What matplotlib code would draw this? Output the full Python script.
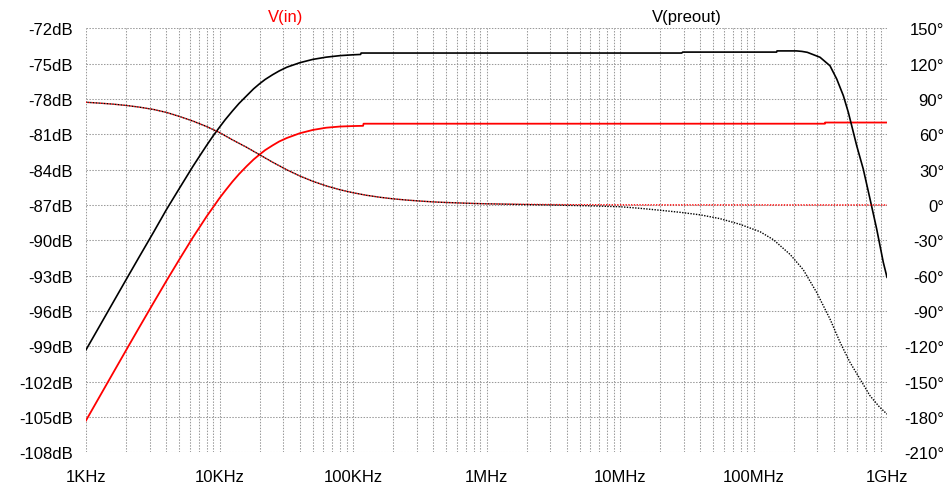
import matplotlib
matplotlib.use("Agg")
import matplotlib.pyplot as plt
from matplotlib.ticker import FixedLocator, LogLocator, NullFormatter

plt.rcParams["font.family"] = ["Liberation Sans", "DejaVu Sans"]

# ---- V(preout) magnitude (Hz, dB) ----
preout_mag_freq = [1e3, 1.25e3, 1.6e3, 2e3, 2.5e3, 3.2e3, 4e3, 5e3, 6.3e3, 7e3, 8e3, 9e3,
                   10e3, 11e3, 12.5e3, 14e3, 16e3, 18e3, 20e3, 22e3, 25e3, 28e3, 32e3,
                   40e3, 50e3, 63e3, 80e3,
                   100e3, 114e3, 115e3, 29e6, 29.5e6, 149e6, 150e6, 210e6, 230e6,
                   253e6, 315e6, 374e6, 420e6, 471e6, 513e6, 544e6, 593e6, 664e6,
                   746e6, 837e6, 938e6, 1e9]
preout_mag_db = [-99.30, -97.38, -95.25, -93.33, -91.42, -89.33, -87.40, -85.60, -83.75, -82.95, -81.95, -81.10,
                 -80.40, -79.78, -79.02, -78.38, -77.72, -77.14, -76.70, -76.34, -75.94, -75.62, -75.30,
                 -74.92, -74.64, -74.45, -74.32,
                 -74.25, -74.22, -74.10, -74.10, -74.02, -74.02, -73.92, -73.92, -73.96,
                 -74.04, -74.46, -75.18, -76.30, -77.72, -79.13, -80.27, -81.97, -83.95,
                 -86.49, -89.04, -91.87, -93.14]

# ---- V(in) magnitude (Hz, dB) ----
vin_mag_freq = [1e3, 1.25e3, 1.6e3, 2e3, 2.5e3, 3.2e3, 4e3, 5e3, 6.3e3, 7e3, 8e3, 9e3,
                10e3, 11e3, 12.5e3, 14e3, 16e3, 18e3, 20e3, 22e3, 25e3, 28e3, 32e3,
                40e3, 50e3, 63e3, 80e3,
                100e3, 119e3, 120e3, 343e6, 344e6, 1e9]
vin_mag_db = [-105.30, -103.37, -101.24, -99.32, -97.41, -95.32, -93.45, -91.63, -89.78, -88.99, -87.98, -87.16,
              -86.42, -85.81, -85.02, -84.38, -83.70, -83.14, -82.71, -82.34, -81.94, -81.61, -81.31,
              -80.91, -80.63, -80.44, -80.34,
              -80.30, -80.28, -80.10, -80.10, -80.00, -80.00]

# ---- phase (Hz, degrees) ----
vin_phase_freq = [1e3, 1.25e3, 1.6e3, 2e3, 2.5e3, 3.2e3, 4e3, 5e3, 6.3e3, 8e3,
                  10e3, 12.5e3, 16e3, 20e3, 25e3, 32e3, 40e3, 50e3, 63e3, 80e3,
                  100e3, 125e3, 160e3, 200e3, 250e3, 320e3, 400e3, 500e3, 630e3, 800e3,
                  1e6, 2e6, 4e6, 10e6, 1e9]
vin_phase_deg = [87.2, 86.5, 85.6, 84.5, 83.1, 81.1, 78.6, 75.2, 71.3, 66.6,
                 61.5, 55.3, 48.9, 42.6, 36.3, 29.8, 24.6, 20.1, 16.2, 12.9,
                 10.4, 8.3, 6.5, 5.2, 4.2, 3.3, 2.6, 2.1, 1.7, 1.3,
                 1.0, 0.5, 0.25, 0.1, 0.0]

preout_phase_freq = [1e3, 1.25e3, 1.6e3, 2e3, 2.5e3, 3.2e3, 4e3, 5e3, 6.3e3, 8e3,
                     10e3, 12.5e3, 16e3, 20e3, 25e3, 32e3, 40e3, 50e3, 63e3, 80e3,
                     100e3, 125e3, 160e3, 200e3, 250e3, 320e3, 400e3, 500e3, 630e3, 800e3,
                     1e6, 2e6, 4e6, 6.3e6, 10e6, 14e6, 20e6, 28e6, 40e6, 56e6,
                     79e6, 112e6, 141e6, 188e6, 236e6, 297e6, 374e6, 445e6, 528e6, 628e6,
                     746e6, 870e6, 1e9]
preout_phase_deg = [87.2, 86.5, 85.6, 84.5, 83.1, 81.1, 78.6, 75.2, 71.3, 66.6,
                    61.5, 55.3, 48.9, 42.6, 36.3, 29.8, 24.6, 20.1, 16.2, 12.9,
                    10.4, 8.3, 6.5, 5.2, 4.2, 3.3, 2.6, 2.1, 1.7, 1.3,
                    1.0, 0.3, -0.3, -0.8, -1.5, -2.8, -4.5, -6.2, -8.4, -11.6,
                    -16.4, -22.7, -29.5, -42.0, -55.0, -74.2, -96.8, -116.6, -133.6, -147.8,
                    -162.0, -171.0, -177.6]

# ---- axis ticks ----
x_ticks = [1e3, 1e4, 1e5, 1e6, 1e7, 1e8, 1e9]
x_labels = ["1KHz", "10KHz", "100KHz", "1MHz", "10MHz", "100MHz", "1GHz"]
db_ticks = [-72, -75, -78, -81, -84, -87, -90, -93, -96, -99, -102, -105, -108]
deg_ticks = [150, 120, 90, 60, 30, 0, -30, -60, -90, -120, -150, -180, -210]

W, H = 947, 489
fig = plt.figure(figsize=(W / 100, H / 100), dpi=100)
x0, x1, y_top, y_bot = 86, 887, 29.3, 453.3
ax = fig.add_axes([x0 / W, (H - y_bot) / H, (x1 - x0) / W, (y_bot - y_top) / H])
ax.set_xscale("log")
ax.set_xlim(1e3, 1e9)
ax.set_ylim(-108, -72)
ax2 = ax.twinx()
ax2.set_ylim(-210, 150)

for a in (ax, ax2):
    for s in a.spines.values():
        s.set_visible(False)

grid_kw = dict(color="#9a9a9a", linewidth=0.75, linestyle=(0, (1.4, 1.4)))
ax.xaxis.set_major_locator(FixedLocator(x_ticks))
ax.set_xticklabels(x_labels)
ax.xaxis.set_minor_locator(LogLocator(base=10, subs=range(2, 10)))
ax.xaxis.set_minor_formatter(NullFormatter())
ax.set_yticks(db_ticks)
ax.set_yticklabels([f"{v}dB" for v in db_ticks])
ax.grid(True, which="both", axis="x", **grid_kw)
ax.grid(True, which="major", axis="y", **grid_kw)

ax2.set_yticks(deg_ticks)
ax2.set_yticklabels([f"{v}\u00b0" for v in deg_ticks])

fs = 12
ax.tick_params(axis="both", which="both", length=0, labelsize=fs)
ax.tick_params(axis="y", pad=9.5)
ax.tick_params(axis="x", pad=12)
ax2.tick_params(axis="y", length=0, labelsize=fs, pad=41)
plt.setp(ax2.get_yticklabels(), ha="right")

# magnitudes
ax.plot(vin_mag_freq, vin_mag_db, color="#ff0000", linewidth=1.3, zorder=3)
ax.plot(preout_mag_freq, preout_mag_db, color="#000000", linewidth=1.2, zorder=3)

# phases (dotted)
ax2.plot(vin_phase_freq, vin_phase_deg, color="#ff0000", linewidth=1.0,
         linestyle=(0, (1, 1)), zorder=3)
ax2.plot(preout_phase_freq, preout_phase_deg, color="#000000", linewidth=1.0,
         linestyle=(1, (1, 1)), zorder=3)

# trace names
fig.text(286 / W, 1 - 17.5 / H, "V(in)", color="#ff0000", fontsize=fs,
         ha="center", va="center")
fig.text(687 / W, 1 - 17.5 / H, "V(preout)", color="#000000", fontsize=fs,
         ha="center", va="center")

fig.savefig("out.png", dpi=100)
